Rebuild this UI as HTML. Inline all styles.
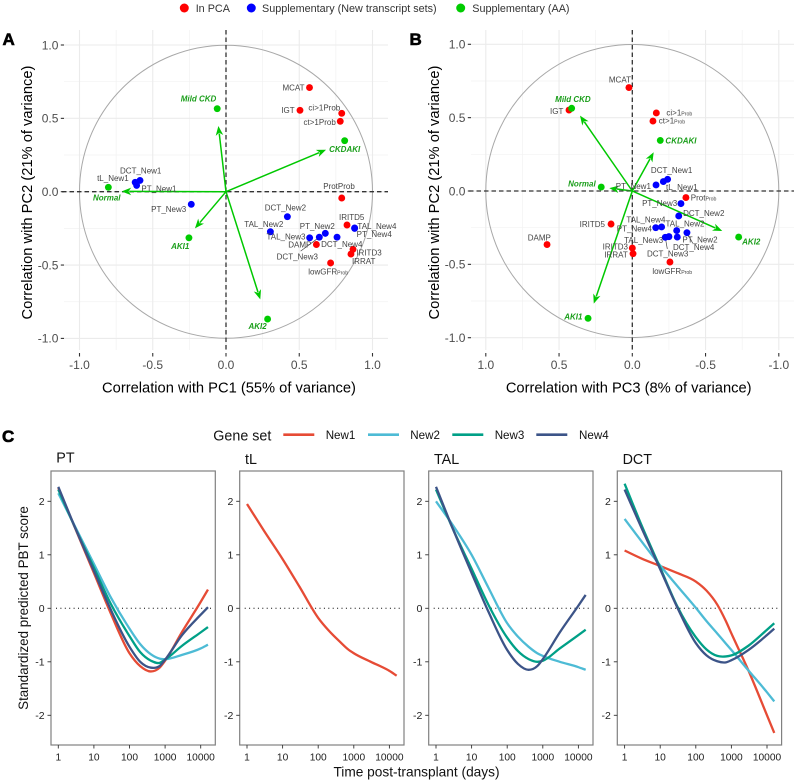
<!DOCTYPE html>
<html lang="en">
<head>
<meta charset="utf-8">
<title>PCA correlation circles and PBT score trajectories</title>
<style>
html,body{margin:0;padding:0;background:#fff}
svg{display:block;font-family:"Liberation Sans",Arial,sans-serif}
</style>
</head>
<body>
<svg id="fig" xmlns="http://www.w3.org/2000/svg" width="800" height="781" viewBox="0 0 800 781">
  <rect x="0" y="0" width="800" height="781" fill="#fff"/>
  <g id="top-legend">
    <circle cx="184.3" cy="8" r="4.5" fill="#ff0000"/>
    <text x="195.7" y="11.8" font-size="10.8" fill="#333">In PCA</text>
    <circle cx="251.3" cy="8" r="4.5" fill="#0000ff"/>
    <text x="262" y="11.8" font-size="10.8" fill="#333">Supplementary (New transcript sets)</text>
    <circle cx="460.7" cy="8" r="4.5" fill="#00cc00"/>
    <text x="472.3" y="11.8" font-size="10.8" fill="#333">Supplementary (AA)</text>
  </g>
  <text x="2.5" y="45" font-size="17" font-weight="bold" stroke="#000" stroke-width="0.6">A</text>
  <text x="409.5" y="45" font-size="17" font-weight="bold" stroke="#000" stroke-width="0.6">B</text>
  <text x="2" y="442" font-size="17" font-weight="bold" stroke="#000" stroke-width="0.6">C</text>
  <g id="panel-a"></g>
  <g id="panel-b"></g>
  <g id="panel-c"></g>
</svg>
<script>
// ---- Panel A data (PC1, PC2) ----
const aInPca = [["MCAT",0.57,0.71],["IGT",0.505,0.555],["ci>1Prob",0.79,0.534],["ct>1Prob",0.78,0.48],["ProtProb",0.79,-0.043],["IRITD5",0.826,-0.227],["DAMP",0.617,-0.36],["IRITD3",0.867,-0.393],["IRRAT",0.853,-0.425],["lowGFR|Prob",0.714,-0.486]];
const aNewSets = [["DCT_New1",-0.587,0.077],["tL_New1",-0.62,0.064],["PT_New1",-0.61,0.043],["PT_New3",-0.237,-0.086],["DCT_New2",0.419,-0.17],["TAL_New2",0.303,-0.273],["TAL_New3",0.571,-0.314],["PT_New2",0.678,-0.284],["DCT_New3",0.637,-0.31],["DCT_New4",0.758,-0.31],["TAL_New4",0.878,-0.247],["PT_New4",0.878,-0.25]];
const aAA = [["Mild CKD",-0.06,0.566],["CKDAKI",0.81,0.348],["Normal",-0.803,0.03],["AKI1",-0.253,-0.314],["AKI2",0.284,-0.868]];
const aArrows = [[-0.052,0.448],[0.683,0.286],[-0.712,0.002],[-0.212,-0.25],[0.234,-0.734]];
// ---- Panel B data (PC3, PC2) ----
const bInPca = [["MCAT",0.023,0.705],["IGT",0.432,0.552],["ci>1|Prob",-0.164,0.532],["ct>1|Prob",-0.141,0.477],["Prot|Prob",-0.366,-0.045],["IRITD5",0.145,-0.225],["DAMP",0.582,-0.365],["IRITD3",0,-0.389],["IRRAT",-0.005,-0.427],["lowGFR|Prob",-0.257,-0.484]];
const bNewSets = [["DCT_New1",-0.241,0.08],["tL_New1",-0.212,0.064],["PT_New1",-0.162,0.041],["PT_New3",-0.332,-0.086],["DCT_New2",-0.317,-0.17],["TAL_New2",-0.303,-0.27],["DCT_New4",-0.373,-0.284],["PT_New2",-0.307,-0.314],["TAL_New3",-0.25,-0.311],["DCT_New3",-0.225,-0.316],["TAL_New4",-0.2,-0.245],["PT_New4",-0.16,-0.25]];
const bAA = [["Mild CKD",0.414,0.564],["CKDAKI",-0.191,0.345],["Normal",0.212,0.027],["AKI2",-0.726,-0.314],["AKI1",0.302,-0.868]];
const bArrows = [[0.357,0.514],[-0.146,0.264],[0.157,0.02],[-0.614,-0.273],[0.263,-0.768]];
// ---- Shared ticks ----
const pcaTicks = [-1,-0.5,0,0.5,1];
const pcaMinorTicks = [-0.75,-0.25,0.25,0.75];
const pcaTickLabels = ["-1.0","-0.5","0.0","0.5","1.0"];
// ---- Label nudges (repel offsets, independent of the values) ----
const aNudge = {"MCAT":[-16,0],"IGT":[-12,0],"ci>1Prob":[-17.4,-6],"ct>1Prob":[-20.6,1],"ProtProb":[-2.7,-11.7],"IRITD5":[4.7,-7.7],"DAMP":[-16.6,.3],"IRITD3":[16,3.4],"IRRAT":[12.7,7.3],"lowGFR|Prob":[-2.4,8.6],"DCT_New1":[.7,-10],"tL_New1":[-22.3,-4.3],"PT_New1":[22.3,3],"PT_New3":[-22.6,4.7],"DCT_New2":[-2,-9],"TAL_New2":[-6.6,-7.4],"TAL_New3":[-23.7,-1],"PT_New2":[-8,-7.3],"DCT_New3":[-22,19.4],"DCT_New4":[4.7,7],"TAL_New4":[22.3,-2],"PT_New4":[19.6,5.8],"Mild CKD":[-18.7,-10],"CKDAKI":[0,8.6],"Normal":[-1.6,10.4],"AKI1":[-8.7,8.3],"AKI2":[-10,7]};
const bNudge = {"MCAT":[-9,-8],"IGT":[-12.3,1],"ci>1|Prob":[23,-.4],"ct>1|Prob":[19,-.4],"Prot|Prob":[17.7,0],"IRITD5":[-18.7,.3],"DAMP":[-7.7,-7],"IRITD3":[-17,-1.4],"IRRAT":[-17,1],"lowGFR|Prob":[2.3,9.3],"DCT_New1":[4,-9],"tL_New1":[18.4,5.4],"PT_New1":[-22.7,1.3],"PT_New3":[-21.3,-.3],"DCT_New2":[25,-3],"TAL_New2":[8.3,-7],"DCT_New4":[6.7,14.4],"PT_New2":[22.7,2.6],"TAL_New3":[-25.3,3.4],"DCT_New3":[2.4,16],"TAL_New4":[-15.7,-7.4],"PT_New4":[-21.4,1],"Mild CKD":[1.3,-9.3],"CKDAKI":[20.7,.3],"Normal":[-19.3,-3.4],"AKI2":[12.6,4.6],"AKI1":[-14.7,-1.7]};
const aLeaders = ["DCT_New3"];
const bLeaders = ["DCT_New3","DCT_New4"];
// ---- Panel C data ----
const days = [1,3,10,30,100,200,400,700,1000,3000,10000,16000];
const geneSets = ["New1","New2","New3","New4"];
const setColors = {New1:"#E64B35",New2:"#4DBBD5",New3:"#00A087",New4:"#3C5488"};
const ptNew1 = [2.25,1.49,0.66,-0.1,-0.84,-1.08,-1.18,-1.11,-0.98,-0.44,0.12,0.35];
const ptNew2 = [2.15,1.52,0.83,0.2,-0.38,-0.67,-0.86,-0.94,-0.95,-0.87,-0.75,-0.68];
const ptNew3 = [2.22,1.5,0.76,0.08,-0.52,-0.82,-0.98,-1.02,-0.96,-0.7,-0.45,-0.35];
const ptNew4 = [2.27,1.5,0.7,-0.03,-0.72,-1.0,-1.11,-1.08,-0.96,-0.5,-0.12,0.02];
const tlNew1 = [1.95,1.45,0.92,0.4,-0.18,-0.42,-0.62,-0.77,-0.84,-1.0,-1.17,-1.26];
const talNew2 = [2.0,1.55,1.0,0.38,-0.28,-0.53,-0.72,-0.84,-0.89,-1.0,-1.1,-1.15];
const talNew3 = [2.22,1.48,0.74,0.06,-0.55,-0.8,-0.95,-1.0,-0.98,-0.75,-0.5,-0.4];
const talNew4 = [2.27,1.48,0.66,-0.07,-0.78,-1.04,-1.15,-1.08,-0.95,-0.45,0.05,0.25];
const dctNew1 = [1.08,0.93,0.79,0.66,0.5,0.33,0.07,-0.24,-0.47,-1.16,-2.0,-2.33];
const dctNew2 = [1.67,1.25,0.8,0.42,0.01,-0.24,-0.47,-0.66,-0.78,-1.16,-1.57,-1.74];
const dctNew3 = [2.33,1.55,0.76,0.04,-0.54,-0.77,-0.89,-0.9,-0.88,-0.7,-0.4,-0.28];
const dctNew4 = [2.22,1.5,0.73,0.02,-0.65,-0.88,-0.99,-1.01,-0.97,-0.78,-0.5,-0.38];
const yTicksC = [-2,-1,0,1,2];
const xTicksC = [1,10,100,1000,10000];
const xTickLabelsC = ["1","10","100","1000","10000"];

const NS = "http://www.w3.org/2000/svg";
function mk(tag, parent, name, attrs, txt) {
  const el = document.createElementNS(NS, tag);
  for (const k in attrs) el.setAttribute(k, attrs[k]);
  
  
  if (txt !== undefined) el.textContent = txt;
  parent.appendChild(el);
  return el;
}
function slug(s) { return s.toLowerCase().replace(/[^a-z0-9]+/g, '-'); }

function drawPca(cfg) {
  const g = document.getElementById(cfg.id);
  const grid = mk('g', g, 'grid', {});
  pcaMinorTicks.forEach(t => {
    mk('line', grid, 'minor-gridline-x', {x1:cfg.x(t),x2:cfg.x(t),y1:cfg.top,y2:cfg.bottom,stroke:'#f2f2f2','stroke-width':0.7});
    mk('line', grid, 'minor-gridline-y', {x1:cfg.left,x2:cfg.right,y1:cfg.y(t),y2:cfg.y(t),stroke:'#f2f2f2','stroke-width':0.7});
  });
  pcaTicks.forEach(t => {
    mk('line', grid, 'major-gridline-x', {x1:cfg.x(t),x2:cfg.x(t),y1:cfg.top,y2:cfg.bottom,stroke:'#ebebeb','stroke-width':1.1});
    mk('line', grid, 'major-gridline-y', {x1:cfg.left,x2:cfg.right,y1:cfg.y(t),y2:cfg.y(t),stroke:'#ebebeb','stroke-width':1.1});
  });
  mk('circle', g, 'unit-circle', {cx:cfg.x(0),cy:cfg.y(0),r:Math.abs(cfg.x(1)-cfg.x(0)),fill:'none',stroke:'#a8a8a8','stroke-width':1});
  mk('line', g, 'zero-line-horizontal', {x1:cfg.left-2,x2:cfg.right,y1:cfg.y(0),y2:cfg.y(0),stroke:'#333','stroke-width':1.3,'stroke-dasharray':'4.5 3'});
  mk('line', g, 'zero-line-vertical', {x1:cfg.x(0),x2:cfg.x(0),y1:cfg.top,y2:cfg.bottom+2,stroke:'#333','stroke-width':1.3,'stroke-dasharray':'4.5 3'});

  // axis ticks and labels
  pcaTicks.forEach((t, i) => {
    mk('line', g, 'y-tick', {x1:cfg.left-3.2,x2:cfg.left,y1:cfg.y(t),y2:cfg.y(t),stroke:'#333','stroke-width':1.1});
    mk('text', g, 'y-tick-label', {x:cfg.left-5.6,y:cfg.y(t)+4.3,'font-size':12,fill:'#4d4d4d','text-anchor':'end'}, pcaTickLabels[i]);
    mk('line', g, 'x-tick', {x1:cfg.x(t),x2:cfg.x(t),y1:353,y2:356.5,stroke:'#333','stroke-width':1.1});
    mk('text', g, 'x-tick-label', {x:cfg.x(t),y:369,'font-size':12,fill:'#4d4d4d','text-anchor':'middle'}, pcaTickLabels[i]);
  });
  mk('text', g, 'x-axis-title', {x:cfg.titleX,y:392.5,'font-size':14.7,fill:'#000','text-anchor':'middle'}, cfg.xTitle);
  mk('text', g, 'y-axis-title', {transform:'translate('+cfg.yTitleX+',192.5) rotate(-90)','font-size':14.7,fill:'#000','text-anchor':'middle'}, 'Correlation with PC2 (21% of variance)');

  // leaders
  const all = cfg.red.concat(cfg.blue);
  cfg.leaders.forEach(name => {
    const p = all.find(d => d[0] === name);
    const n = cfg.nudge[name];
    const px = cfg.x(p[1]), py = cfg.y(p[2]);
    mk('line', g, 'label-leader-' + slug(name), {x1:px,y1:py,x2:px+n[0]*0.85,y2:py+n[1]*0.72,stroke:'#444','stroke-width':0.7});
  });

  // arrows
  cfg.aa.forEach((d, i) => {
    const ar = cfg.arrows[i];
    const x0 = cfg.x(0), y0 = cfg.y(0), x1 = cfg.x(ar[0]), y1 = cfg.y(ar[1]);
    const L = Math.hypot(x1-x0, y1-y0), ux = (x1-x0)/L, uy = (y1-y0)/L;
    const h = 9.5, w = 3.8;
    mk('line', g, 'arrow-shaft-' + slug(d[0]), {x1:x0,y1:y0,x2:x1-ux*h*0.8,y2:y1-uy*h*0.8,stroke:'#00c800','stroke-width':1.5});
    const pts = [[x1,y1],[x1-ux*h-uy*w,y1-uy*h+ux*w],[x1-ux*h*0.72,y1-uy*h*0.72],[x1-ux*h+uy*w,y1-uy*h-ux*w]];
    mk('polygon', g, 'arrow-head-' + slug(d[0]), {points:pts.map(p => p[0].toFixed(2)+','+p[1].toFixed(2)).join(' '),fill:'#00c800'});
  });

  // points
  function points(list, color, kind) {
    list.forEach(d => {
      mk('circle', g, 'point-' + kind + '-' + slug(d[0]), {cx:cfg.x(d[1]),cy:cfg.y(d[2]),r:3.45,fill:color});
    });
  }
  points(cfg.blue, '#0000ff', 'supplementary-new');
  points(cfg.red, '#ff0000', 'in-pca');
  points(cfg.aa, '#00cc00', 'supplementary-aa');

  // labels
  function labels(list, bold) {
    list.forEach(d => {
      const n = cfg.nudge[d[0]] || [0,0];
      const parts = d[0].split('|');
      const attrs = {x:cfg.x(d[1])+n[0],y:cfg.y(d[2])+n[1]+2.9,'font-size':8,fill:bold?'#1a9e1a':'#444','text-anchor':'middle'};
      if (bold) { attrs['font-weight'] = 'bold'; attrs['font-style'] = 'italic'; }
      const t = mk('text', g, 'label-' + slug(d[0]), attrs, parts[0]);
      if (parts[1]) {
        const s = document.createElementNS(NS, 'tspan');
        s.setAttribute('font-size', '5.2');
        
        
        s.textContent = parts[1];
        t.appendChild(s);
      }
    });
  }
  labels(cfg.red, false);
  labels(cfg.blue, false);
  labels(cfg.aa, true);
}

function xAScale(v) { return 226 + 146.5 * v; }
function yAScale(v) { return 191.7 - 146.7 * v; }
function xBScale(v) { return 632.3 - 146.5 * v; }
function yBScale(v) { return 191 - 146.7 * v; }

drawPca({id:'panel-a',x:xAScale,y:yAScale,left:64,right:388,top:30,bottom:350,red:aInPca,blue:aNewSets,aa:aAA,arrows:aArrows,nudge:aNudge,leaders:aLeaders,xTitle:'Correlation with PC1 (55% of variance)',titleX:229,yTitleX:32});
drawPca({id:'panel-b',x:xBScale,y:yBScale,left:471,right:794,top:30,bottom:350,red:bInPca,blue:bNewSets,aa:bAA,arrows:bArrows,nudge:bNudge,leaders:bLeaders,xTitle:'Correlation with PC3 (8% of variance)',titleX:628.7,yTitleX:439});

// ---- Panel C ----
const smallPanels = [
  {title:'PT', left:51, titleY:462.7, series:{New1:ptNew1,New2:ptNew2,New3:ptNew3,New4:ptNew4}},
  {title:'tL', left:239.7, titleY:464, series:{New1:tlNew1}},
  {title:'TAL', left:428.7, titleY:464, series:{New2:talNew2,New3:talNew3,New4:talNew4}},
  {title:'DCT', left:617.3, titleY:464, series:{New1:dctNew1,New2:dctNew2,New3:dctNew3,New4:dctNew4}}
];
function yCScale(v) { return 608.3 - 53.5 * v; }
function xCScale(left, day) { return left + 7.3 + 35.6 * Math.log10(day); }
function smoothPath(xs, ys) {
  const n = xs.length;
  const m = xs.map((_, i) => {
    if (i === 0) return (ys[1]-ys[0]) / (xs[1]-xs[0]);
    if (i === n-1) return (ys[n-1]-ys[n-2]) / (xs[n-1]-xs[n-2]);
    const h0 = xs[i]-xs[i-1], h1 = xs[i+1]-xs[i];
    const d0 = (ys[i]-ys[i-1])/h0, d1 = (ys[i+1]-ys[i])/h1;
    return (h1*d0 + h0*d1) / (h0+h1);
  });
  let d = 'M' + xs[0].toFixed(2) + ',' + ys[0].toFixed(2);
  for (let i = 0; i < n-1; i++) {
    const h = xs[i+1]-xs[i];
    d += 'C' + (xs[i]+h/3).toFixed(2) + ',' + (ys[i]+m[i]*h/3).toFixed(2) + ' ' + (xs[i+1]-h/3).toFixed(2) + ',' + (ys[i+1]-m[i+1]*h/3).toFixed(2) + ' ' + xs[i+1].toFixed(2) + ',' + ys[i+1].toFixed(2);
  }
  return d;
}
(function () {
  const root = document.getElementById('panel-c');
  const top = 471, bottom = 745, width = 164.3;
  smallPanels.forEach(p => {
    const g = mk('g', root, 'facet-' + slug(p.title), {});
    mk('text', g, 'facet-title-' + slug(p.title), {x:p.left+5.3,y:p.titleY,'font-size':14.3,fill:'#111'}, p.title);
    mk('line', g, 'zero-reference-line', {x1:p.left+5,x2:p.left+width-2,y1:yCScale(0),y2:yCScale(0),stroke:'#000','stroke-width':1,'stroke-dasharray':'1 3.4'});
    geneSets.forEach(s => {
      const vals = p.series[s];
      if (!vals) return;
      const xs = days.map(d => xCScale(p.left, d));
      const ys = vals.map(yCScale);
      mk('path', g, 'line-' + slug(p.title) + '-' + s.toLowerCase(), {d:smoothPath(xs, ys),fill:'none',stroke:setColors[s],'stroke-width':2.3,'stroke-linejoin':'round'});
    });
    mk('rect', g, 'facet-border-' + slug(p.title), {x:p.left,y:top,width:width,height:bottom-top,fill:'none',stroke:'#808080','stroke-width':1.2});
    yTicksC.forEach(t => {
      mk('line', g, 'y-tick', {x1:p.left-3.5,x2:p.left,y1:yCScale(t),y2:yCScale(t),stroke:'#333','stroke-width':0.9});
      mk('text', g, 'y-tick-label', {x:p.left-6.4,y:yCScale(t)+3.7,'font-size':10.5,fill:'#222','text-anchor':'end'}, String(t));
    });
    xTicksC.forEach((t, i) => {
      const x = xCScale(p.left, t);
      mk('line', g, 'x-tick', {x1:x,x2:x,y1:bottom,y2:bottom+3.5,stroke:'#333','stroke-width':0.9});
      mk('text', g, 'x-tick-label', {x:x,y:760.4,'font-size':10.2,fill:'#222','text-anchor':'middle'}, xTickLabelsC[i]);
    });
  });
  mk('text', root, 'x-axis-title', {x:416.5,y:776.5,'font-size':13.7,fill:'#111','text-anchor':'middle'}, 'Time post-transplant (days)');
  mk('text', root, 'y-axis-title', {transform:'translate(28,608) rotate(-90)','font-size':13.4,fill:'#111','text-anchor':'middle'}, 'Standardized predicted PBT score');

  const lg = mk('g', root, 'gene-set-legend', {});
  mk('text', lg, 'legend-title', {x:213.3,y:440.3,'font-size':14.3,fill:'#111'}, 'Gene set');
  const lineStarts = [283.3, 368, 452.3, 536.3];
  const textStarts = [325.7, 410.3, 494.7, 579];
  geneSets.forEach((s, i) => {
    mk('line', lg, 'legend-line-' + s.toLowerCase(), {x1:lineStarts[i],x2:lineStarts[i]+31,y1:434.7,y2:434.7,stroke:setColors[s],'stroke-width':2.6});
    mk('text', lg, 'legend-label-' + s.toLowerCase(), {x:textStarts[i],y:439.2,'font-size':11.6,fill:'#111'}, s);
  });
})();
</script>
</body>
</html>
